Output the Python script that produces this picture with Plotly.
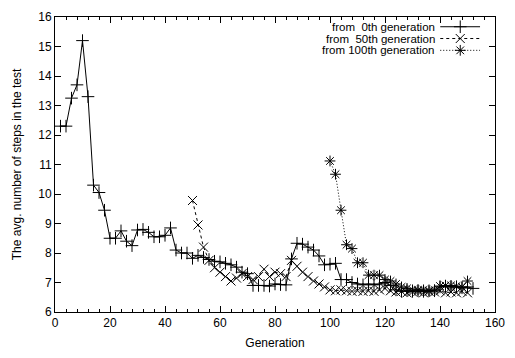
import plotly.graph_objects as go

# ---- data ----
gen_a = list(range(2, 153, 2))
steps_a = [12.3, 12.3, 13.25, 13.7, 15.2, 13.3, 10.3, 10.05, 9.45, 8.5,
           8.5, 8.75, 8.4, 8.25, 8.78, 8.8, 8.7, 8.55, 8.55, 8.6,
           8.85, 8.1, 8.0, 8.0, 7.82, 7.92, 7.85, 7.78, 7.72, 7.7,
           7.65, 7.6, 7.52, 7.35, 7.3, 6.9, 6.9, 6.9, 6.88, 6.95,
           6.93, 6.92, 7.8, 8.33, 8.3, 8.2, 8.1, 7.9, 7.6, 7.62,
           7.65, 7.1, 7.1, 7.0, 6.95, 6.92, 6.95, 6.92, 6.95, 7.0,
           6.9, 6.75, 6.7, 6.72, 6.7, 6.72, 6.7, 6.72, 6.72, 6.85,
           6.88, 6.85, 6.85, 6.82, 6.85, 6.8]

gen_b = list(range(50, 151, 2))
steps_b = [9.78, 8.95, 8.2, 7.75, 7.5, 7.35, 7.2, 7.05, 7.15, 7.3,
           7.2, 7.1, 7.2, 7.45, 7.2, 7.35, 7.3, 7.2, 7.75, 7.55,
           7.35, 7.2, 7.05, 6.95, 6.85, 6.75, 6.72, 6.75, 6.72, 6.7,
           6.72, 6.7, 6.72, 6.7, 6.75, 6.8, 6.72, 6.68, 6.7, 6.65,
           6.68, 6.7, 6.65, 6.7, 6.68, 6.72, 6.65, 6.68, 6.65, 6.7,
           6.65]

gen_c = list(range(100, 151, 2))
steps_c = [11.12, 10.67, 9.45, 8.28, 8.15, 7.67, 7.67, 7.25, 7.25, 7.25,
           7.1, 7.05, 6.95, 6.85, 6.8, 6.75, 6.75, 6.75, 6.72, 6.75,
           6.88, 6.9, 6.9, 6.88, 6.85, 7.05]

labels = ["from  0th generation", "from  50th generation", "from 100th generation"]
x_ticks = [0, 20, 40, 60, 80, 100, 120, 140, 160]
y_ticks = [6, 7, 8, 9, 10, 11, 12, 13, 14, 15, 16]

FONT = "Liberation Sans, Arial, Helvetica, sans-serif"
FS = 12
KEY_FS = 11.5
styles = [
    dict(dash="solid", symbol="cross-thin-open"),
    dict(dash="3px,3px", symbol="x-thin-open"),
    dict(dash="1px,2px", symbol="asterisk-open"),
]

fig = go.Figure()
for gx, gy, st, name in zip([gen_a, gen_b, gen_c], [steps_a, steps_b, steps_c], styles, labels):
    fig.add_trace(go.Scatter(
        x=gx, y=gy, mode="lines+markers", name=name, showlegend=False,
        line=dict(color="black", width=1, dash=st["dash"]),
        marker=dict(symbol=st["symbol"], size=9, color="black",
                    line=dict(color="black", width=1)),
    ))

# ---- gnuplot-style key (text left, sample right) ----
row_y = [0.967, 0.927, 0.887]
for st, name, ry in zip(styles, labels, row_y):
    fig.add_trace(go.Scatter(
        x=[0.8756, 0.966], y=[ry, ry], xaxis="x2", yaxis="y2", mode="lines",
        line=dict(color="black", width=1, dash=st["dash"]), showlegend=False,
        hoverinfo="skip"))
    fig.add_trace(go.Scatter(
        x=[0.921], y=[ry], xaxis="x2", yaxis="y2", mode="markers",
        marker=dict(symbol=st["symbol"], size=9, color="black",
                    line=dict(color="black", width=1)),
        showlegend=False, hoverinfo="skip"))
    fig.add_annotation(x=0.8665, y=ry, xref="paper", yref="paper",
                       text=name.replace("  ", "&nbsp;&nbsp;"), showarrow=False,
                       xanchor="right", yanchor="middle", borderpad=0,
                       font=dict(family=FONT, size=KEY_FS, color="black"))

axis_common = dict(showline=True, linecolor="black", linewidth=1, mirror="ticks",
                   ticks="inside", ticklen=6, tickcolor="black", showgrid=False,
                   zeroline=False, tickfont=dict(family=FONT, size=FS, color="black"))

fig.update_layout(
    width=515, height=358,
    margin=dict(l=55, r=18, t=10, b=44),
    paper_bgcolor="white", plot_bgcolor="white",
    font=dict(family=FONT, size=FS, color="black"),
    xaxis=dict(range=[0, 160], tickvals=x_ticks, ticktext=[str(v) for v in x_ticks],
               title=dict(text="Generation", standoff=9, font=dict(family=FONT, size=FS)),
               minor=dict(ticks="inside", ticklen=3, dtick=4, tick0=0, tickcolor="black"),
               **axis_common),
    yaxis=dict(range=[6, 16], tickvals=y_ticks, ticktext=[str(v) for v in y_ticks],
               title=dict(text="The avg. number of steps in the test", standoff=14,
                          font=dict(family=FONT, size=FS)),
               **axis_common),
    xaxis2=dict(range=[0, 1], overlaying="x", visible=False, fixedrange=True),
    yaxis2=dict(range=[0, 1], overlaying="y", visible=False, fixedrange=True),
)

fig.write_html("out.html")
